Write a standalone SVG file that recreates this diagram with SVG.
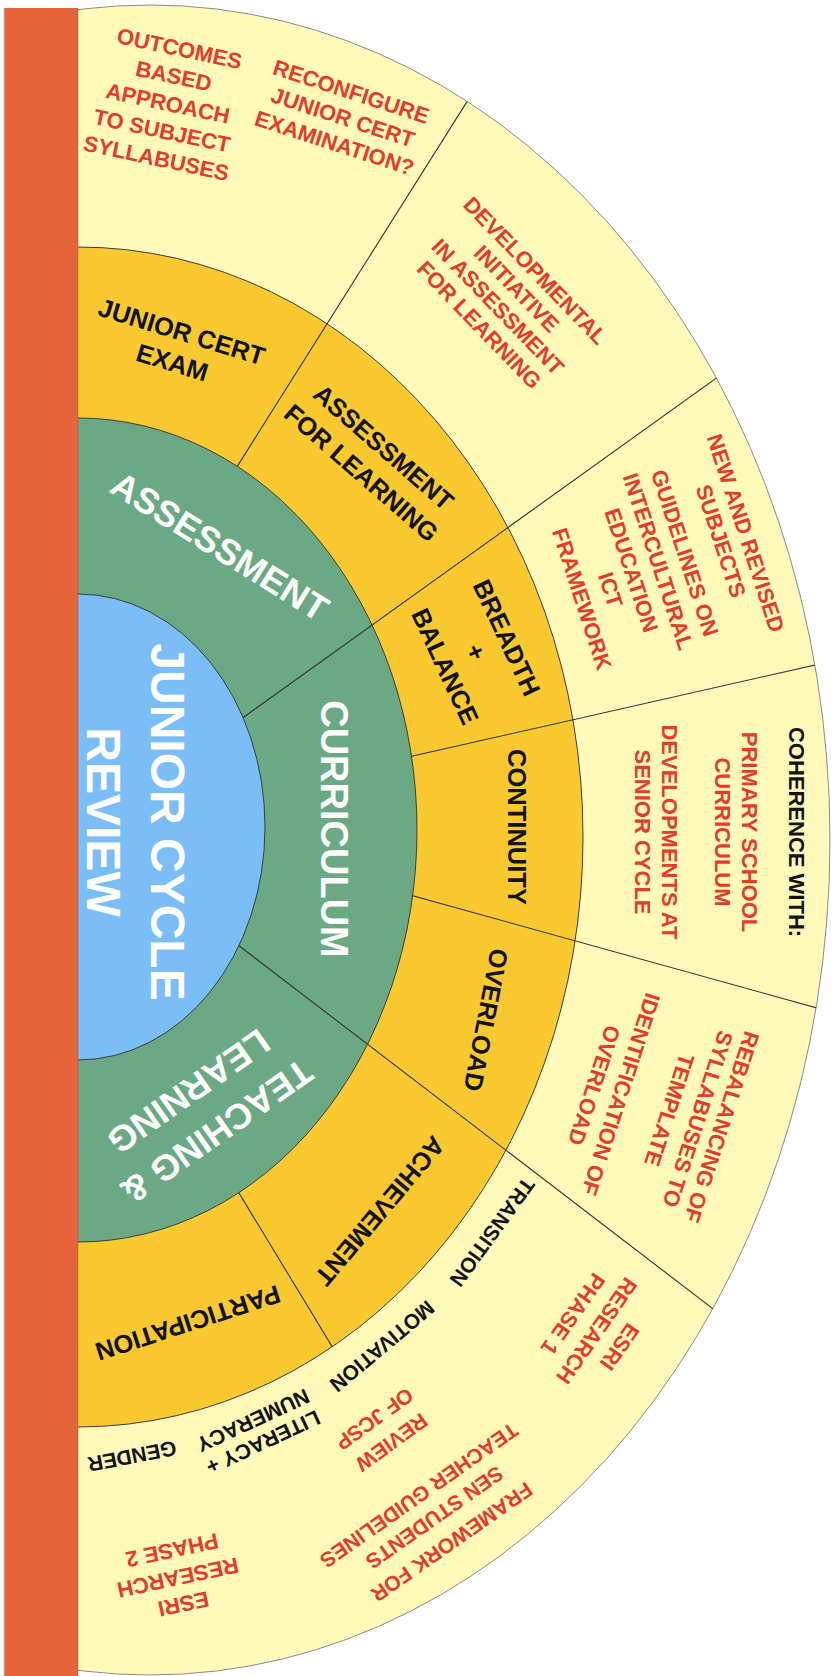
<svg xmlns="http://www.w3.org/2000/svg" width="834" height="1676" viewBox="0 0 834 1676">
  <style>
    text { font-family: "Liberation Sans", Arial, Helvetica, sans-serif; text-anchor: middle; }
    .red { fill: #E53B2C; font-weight: bold; font-size: 22px; }
    .reds { fill: #E53B2C; font-weight: bold; font-size: 21px; }
    .blk { fill: #121212; font-weight: bold; font-size: 25.5px; }
    .blks { fill: #121212; font-weight: bold; font-size: 21px; }
    .blkm { fill: #121212; font-weight: bold; font-size: 22px; }
    .wht { fill: #FFFFFF; font-weight: bold; font-size: 36px; }
    .whtb { fill: #FFFFFF; font-weight: bold; font-size: 48px; }
    .edge { stroke: #3C3C3C; stroke-width: 1; }
    .div { stroke: #333333; stroke-width: 1.1; fill: none; }
  </style>
  <defs>
    <clipPath id="rightOfBar"><rect x="78" y="0" width="756" height="1676"/></clipPath>
    <!-- annulus between the outer band and the green ring -->
    <clipPath id="outerBand">
      <path clip-rule="evenodd" d="M -530,840 a 680,835 0 1 0 1360,0 a 680,835 0 1 0 -1360,0 Z M -261,830 a 339,412 0 1 0 678,0 a 339,412 0 1 0 -678,0 Z"/>
    </clipPath>
    <!-- annulus between the outer band and the blue core -->
    <clipPath id="outerCore">
      <path clip-rule="evenodd" d="M -530,840 a 680,835 0 1 0 1360,0 a 680,835 0 1 0 -1360,0 Z M -109,827 a 187,233 0 1 0 374,0 a 187,233 0 1 0 -374,0 Z"/>
    </clipPath>
    <!-- gold ring only -->
    <clipPath id="goldRing">
      <path clip-rule="evenodd" d="M -427,837 a 505,590 0 1 0 1010,0 a 505,590 0 1 0 -1010,0 Z M -261,830 a 339,412 0 1 0 678,0 a 339,412 0 1 0 -678,0 Z"/>
    </clipPath>
  </defs>

  <rect width="834" height="1676" fill="#FFFFFF"/>

  <!-- concentric rings -->
  <g id="rings" clip-path="url(#rightOfBar)">
    <ellipse id="ring-outer" cx="150" cy="840" rx="680" ry="835" fill="#FFFAB9" stroke="#8A8A8A" stroke-width="1"/>
    <ellipse id="ring-gold" cx="78" cy="837" rx="505" ry="590" fill="#F9C92F" class="edge"/>
    <ellipse id="ring-green" cx="78" cy="830" rx="339" ry="412" fill="#6BA984" class="edge"/>
    <ellipse id="ring-core" cx="78" cy="827" rx="187" ry="233" fill="#7BBEF7" class="edge"/>
  </g>

  <!-- sector dividers -->
  <g id="connectors">
    <line class="div" clip-path="url(#outerCore)" x1="78" y1="836" x2="800" y2="318"/>
    <line class="div" clip-path="url(#outerCore)" x1="78" y1="822.4" x2="800" y2="1375.5"/>
    <line class="div" clip-path="url(#outerBand)" x1="150" y1="604.9" x2="520" y2="17.5"/>
    <line class="div" clip-path="url(#outerBand)" x1="300" y1="781.5" x2="900" y2="645.8"/>
    <line class="div" clip-path="url(#outerBand)" x1="300" y1="864.5" x2="900" y2="1031"/>
    <line class="div" clip-path="url(#goldRing)" x1="200" y1="1128.8" x2="360" y2="1392.5"/>
  </g>

  <!-- side bar -->
  <rect x="4" y="8" width="74" height="1668" fill="#E6643A"/>
  <line x1="4" y1="8" x2="4" y2="1676" stroke="#C4C4C4" stroke-width="1"/>
  <line x1="78" y1="8" x2="78" y2="1676" stroke="#6A5A50" stroke-width="0.8" opacity="0.5"/>

  <!-- core -->
  <g id="node-junior-cycle-review">
    <text class="whtb" transform="translate(135.5 822) rotate(90)"><tspan x="0" y="-15">JUNIOR CYCLE</tspan><tspan x="0" y="49">REVIEW</tspan></text>
  </g>

  <!-- green ring -->
  <g id="node-assessment">
    <text class="wht" transform="translate(220 546) rotate(32)" x="0" y="13">ASSESSMENT</text>
  </g>
  <g id="node-curriculum">
    <text class="wht" style="font-size:38px" transform="translate(335 829) rotate(90)" x="0" y="14">CURRICULUM</text>
  </g>
  <g id="node-teaching-learning">
    <text class="wht" transform="translate(203 1112) rotate(145)"><tspan x="0" y="-11.5">TEACHING &amp;</tspan><tspan x="0" y="37.5">LEARNING</tspan></text>
  </g>

  <!-- gold ring -->
  <g id="node-junior-cert-exam">
    <text class="blk" transform="translate(177 347) rotate(17)"><tspan x="0" y="-7">JUNIOR CERT</tspan><tspan x="0" y="25">EXAM</tspan></text>
  </g>
  <g id="node-assessment-for-learning">
    <text class="blk" transform="translate(372.5 460) rotate(41)"><tspan x="0" y="-8">ASSESSMENT</tspan><tspan x="0" y="26">FOR LEARNING</tspan></text>
  </g>
  <g id="node-breadth-balance">
    <text class="blk" transform="translate(476 652) rotate(65)"><tspan x="0" y="-25">BREADTH</tspan><tspan x="0" y="9">+</tspan><tspan x="0" y="43">BALANCE</tspan></text>
  </g>
  <g id="node-continuity">
    <text class="blk" transform="translate(517 827) rotate(90)" x="0" y="9">CONTINUITY</text>
  </g>
  <g id="node-overload">
    <text class="blk" transform="translate(486 1020) rotate(101)" x="0" y="9">OVERLOAD</text>
  </g>
  <g id="node-achievement">
    <text class="blk" transform="translate(380 1211) rotate(130)" x="0" y="9">ACHIEVEMENT</text>
  </g>
  <g id="node-participation">
    <text class="blk" transform="translate(188 1323) rotate(162)" x="0" y="9">PARTICIPATION</text>
  </g>

  <!-- outer band -->
  <g id="node-outcomes-based">
    <text class="red" transform="translate(168 103) rotate(12)"><tspan x="0" y="-48">OUTCOMES</tspan><tspan x="0" y="-20">BASED</tspan><tspan x="0" y="8">APPROACH</tspan><tspan x="0" y="36">TO SUBJECT</tspan><tspan x="0" y="64">SYLLABUSES</tspan></text>
  </g>
  <g id="node-reconfigure">
    <text class="red" transform="translate(343 117) rotate(18)"><tspan x="0" y="-19">RECONFIGURE</tspan><tspan x="0" y="8">JUNIOR CERT</tspan><tspan x="0" y="35">EXAMINATION?</tspan></text>
  </g>
  <g id="node-developmental">
    <text class="red" transform="translate(507.5 297.5) rotate(46)"><tspan x="0" y="-31">DEVELOPMENTAL</tspan><tspan x="0" y="-5">INITIATIVE</tspan><tspan x="0" y="21">IN ASSESSMENT</tspan><tspan x="0" y="47">FOR LEARNING</tspan></text>
  </g>
  <g id="node-new-subjects">
    <text class="red" transform="translate(746 533) rotate(72)"><tspan x="0" y="8">NEW AND REVISED</tspan><tspan x="0" y="34">SUBJECTS</tspan><tspan x="0" y="72">GUIDELINES ON</tspan><tspan x="0" y="100">INTERCULTURAL</tspan><tspan x="0" y="128">EDUCATION</tspan><tspan x="12" y="154">ICT</tspan><tspan x="12" y="184">FRAMEWORK</tspan></text>
  </g>
  <g id="node-coherence">
    <text transform="translate(797 832) rotate(90)"><tspan class="blkm" x="0" y="8">COHERENCE WITH:</tspan><tspan class="red" x="0" y="55">PRIMARY SCHOOL</tspan><tspan class="red" x="0" y="82">CURRICULUM</tspan><tspan class="red" x="0" y="135">DEVELOPMENTS AT</tspan><tspan class="red" x="0" y="162">SENIOR CYCLE</tspan></text>
  </g>
  <g id="node-rebalancing">
    <text class="red" transform="translate(722 1127) rotate(108)"><tspan x="0" y="8">REBALANCING OF</tspan><tspan x="0" y="33">SYLLABUSES TO</tspan><tspan x="0" y="63">TEMPLATE</tspan><tspan x="0" y="114">IDENTIFICATION OF</tspan><tspan x="0" y="142">OVERLOAD</tspan></text>
  </g>
  <g id="node-esri-1">
    <text class="red" transform="translate(597 1331) rotate(125)"><tspan x="0" y="-20">ESRI</tspan><tspan x="0" y="8">RESEARCH</tspan><tspan x="0" y="37">PHASE 1</tspan></text>
  </g>
  <g id="node-transition">
    <text class="blks" transform="translate(492 1232) rotate(126)" x="0" y="7">TRANSITION</text>
  </g>
  <g id="node-motivation">
    <text class="blks" transform="translate(382 1346) rotate(140)" x="0" y="7">MOTIVATION</text>
  </g>
  <g id="node-literacy-numeracy">
    <text class="blks" transform="translate(263 1442) rotate(155)"><tspan x="0" y="7">LITERACY +</tspan><tspan x="0" y="31">NUMERACY</tspan></text>
  </g>
  <g id="node-gender">
    <text class="blks" transform="translate(132 1456) rotate(169)" x="0" y="7">GENDER</text>
  </g>
  <g id="node-review-jcsp">
    <text class="reds" transform="translate(392 1443) rotate(144)"><tspan x="0" y="8">REVIEW</tspan><tspan x="0" y="37">OF JCSP</tspan></text>
  </g>
  <g id="node-sen-framework">
    <text class="reds" transform="translate(435 1518) rotate(145)"><tspan x="0" y="-22">FRAMEWORK FOR</tspan><tspan x="0" y="8">SEN STUDENTS</tspan><tspan x="0" y="35">TEACHER GUIDELINES</tspan></text>
  </g>
  <g id="node-esri-2">
    <text class="red" transform="translate(178 1578) rotate(168)"><tspan x="0" y="-19">ESRI</tspan><tspan x="0" y="8">RESEARCH</tspan><tspan x="0" y="36">PHASE 2</tspan></text>
  </g>
</svg>
